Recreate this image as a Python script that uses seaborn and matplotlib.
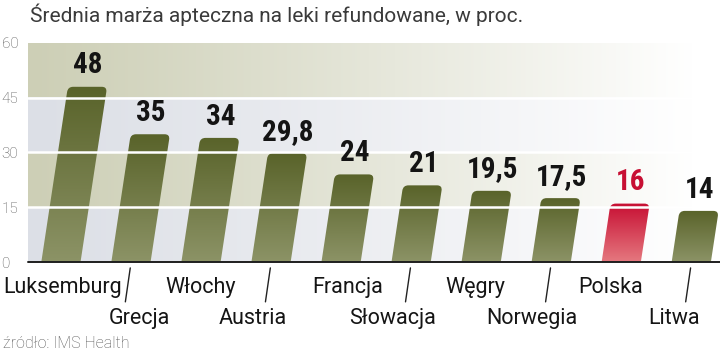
import numpy as np
import pandas as pd
import matplotlib
matplotlib.use("Agg")
import matplotlib.pyplot as plt
import seaborn as sns
from matplotlib import font_manager
from matplotlib.patches import FancyBboxPatch
from matplotlib.transforms import Affine2D, blended_transform_factory
from matplotlib.colors import to_rgb

# ---- data ----
countries = ["Luksemburg", "Grecja", "Włochy", "Austria", "Francja",
             "Słowacja", "Węgry", "Norwegia", "Polska", "Litwa"]
values = [48, 35, 34, 29.8, 24, 21, 19.5, 17.5, 16, 14]
highlight = "Polska"
y_ticks = [0, 15, 30, 45, 60]
title = "Średnia marża apteczna na leki refundowane, w proc."
source = "źródło: IMS Health"

sns.set_theme(style="white")
plt.rcParams['font.family'] = ['Roboto', 'DejaVu Sans']

# pick a condensed face for the value labels if one is installed
installed = {f.name for f in font_manager.fontManager.ttflist}
cond_family = "DejaVu Sans"
for cand in ["Roboto Condensed", "Barlow Condensed", "Liberation Sans Narrow",
             "DejaVu Sans Condensed", "Asap Condensed", "Archivo Narrow"]:
    if cand in installed:
        cond_family = cand
        break

W, H = 720, 357
fig = plt.figure(figsize=(W / 100, H / 100), dpi=100)
ax = fig.add_axes([28 / W, 1 - 262 / H, 692 / W, 219 / H])

df = pd.DataFrame({"country": countries, "value": values})
sns.barplot(data=df, x="country", y="value", ax=ax, width=0.56,
            color="#6a7436", order=countries)

XMIN, XMAX = -0.47, 9.41
ny, nx = 600, 400
img = np.ones((ny, nx, 3))
olive_bg = np.array(to_rgb("#cdcfb6"))
grey_bg = np.array(to_rgb("#dcdfe6"))
xs = np.linspace(0, 1, nx)
fade = np.clip(xs / 0.96, 0, 1) ** 1.1
for r in range(ny):
    yv = (r + 0.5) / ny * 60
    band = int(yv // 15)
    base = olive_bg if band % 2 == 1 else grey_bg
    img[r] = base[None, :] * (1 - fade[:, None]) + 1.0 * fade[:, None]
ax.imshow(img, extent=(XMIN, XMAX, 0, 60), origin="lower", aspect="auto",
          interpolation="nearest", zorder=0)

k = 0.0079
skew = Affine2D(np.array([[1, k, 0], [0, 1, 0], [0, 0, 1]]))
aspect = 19.2
for patch, name, v in zip(ax.patches, countries, values):
    x0, w, h = patch.get_x(), patch.get_width(), patch.get_height()
    patch.set_visible(False)
    fb = FancyBboxPatch((x0, -3), w, h + 3,
                        boxstyle="round,pad=0,rounding_size=0.075",
                        mutation_aspect=aspect, facecolor="none",
                        edgecolor="none", transform=skew + ax.transData,
                        zorder=2)
    ax.add_patch(fb)
    if name == highlight:
        top, bot = to_rgb("#c70f33"), to_rgb("#e5787f")
    else:
        top, bot = to_rgb("#59632a"), to_rgb("#8c9366")
    t = np.linspace(0, 1, 100)[:, None]
    grad = np.array(bot)[None, :] * (1 - t) + np.array(top)[None, :] * t
    grad = grad[:, None, :]
    im = ax.imshow(grad, extent=(x0 - 0.1, x0 + w + k * v + 0.2, 0, h),
                   origin="lower", aspect="auto", interpolation="bilinear",
                   zorder=2)
    im.set_clip_path(fb)

for yv in y_ticks[1:-1]:
    ax.axhline(yv, color="white", lw=1.8, zorder=3)
ax.axhline(0, color="#1e1e1e", lw=1.4, zorder=5, clip_on=False)

# value labels
for i, (name, v) in enumerate(zip(countries, values)):
    lab = f"{v:g}".replace(".", ",")
    color = "#c70f33" if name == highlight else "#141414"
    ax.text(i + k * v + 0.01, v + 2.0, lab, ha="center", va="bottom",
            fontsize=21, fontweight="bold", family=[cond_family, "DejaVu Sans"],
            color=color, zorder=6)

ax.set_xlim(XMIN, XMAX)
ax.set_ylim(0, 60)
for s in ax.spines.values():
    s.set_visible(False)
ax.set_xlabel("")
ax.set_ylabel("")
ax.set_xticks([])
ax.set_yticks(y_ticks)
ax.set_yticklabels([str(t) for t in y_ticks])
ax.tick_params(axis="y", length=0, pad=19, labelsize=11, labelcolor="#555555")
for lbl in ax.get_yticklabels():
    lbl.set_horizontalalignment("left")
    lbl.set_fontweight("light")

trans = blended_transform_factory(ax.transData, ax.transAxes)
label_dx = [0.03, 0.12, 0.0, -0.26, 0.1, -0.27, -0.08, -0.27, -0.15, -0.24]
for i, name in enumerate(countries):
    row2 = i % 2 == 1
    y = -0.26 if row2 else -0.115
    ax.text(i + label_dx[i], y, name, transform=trans, ha="center",
            va="center", fontsize=15.5, color="#151515", clip_on=False)
    if row2:
        ax.plot([i - 0.08, i - 0.01], [-0.182, -0.027], transform=trans,
                color="#222222", lw=1.0, clip_on=False)

fig.text(30 / W, 1 - 15 / H, title, ha="left", va="center", fontsize=15,
         fontweight="normal", color="#3a3a3a")
fig.text(3 / W, 1 - 344 / H, source, ha="left", va="center", fontsize=11.5,
         fontweight="light", color="#555555")

fig.savefig("out.png", dpi=100)
